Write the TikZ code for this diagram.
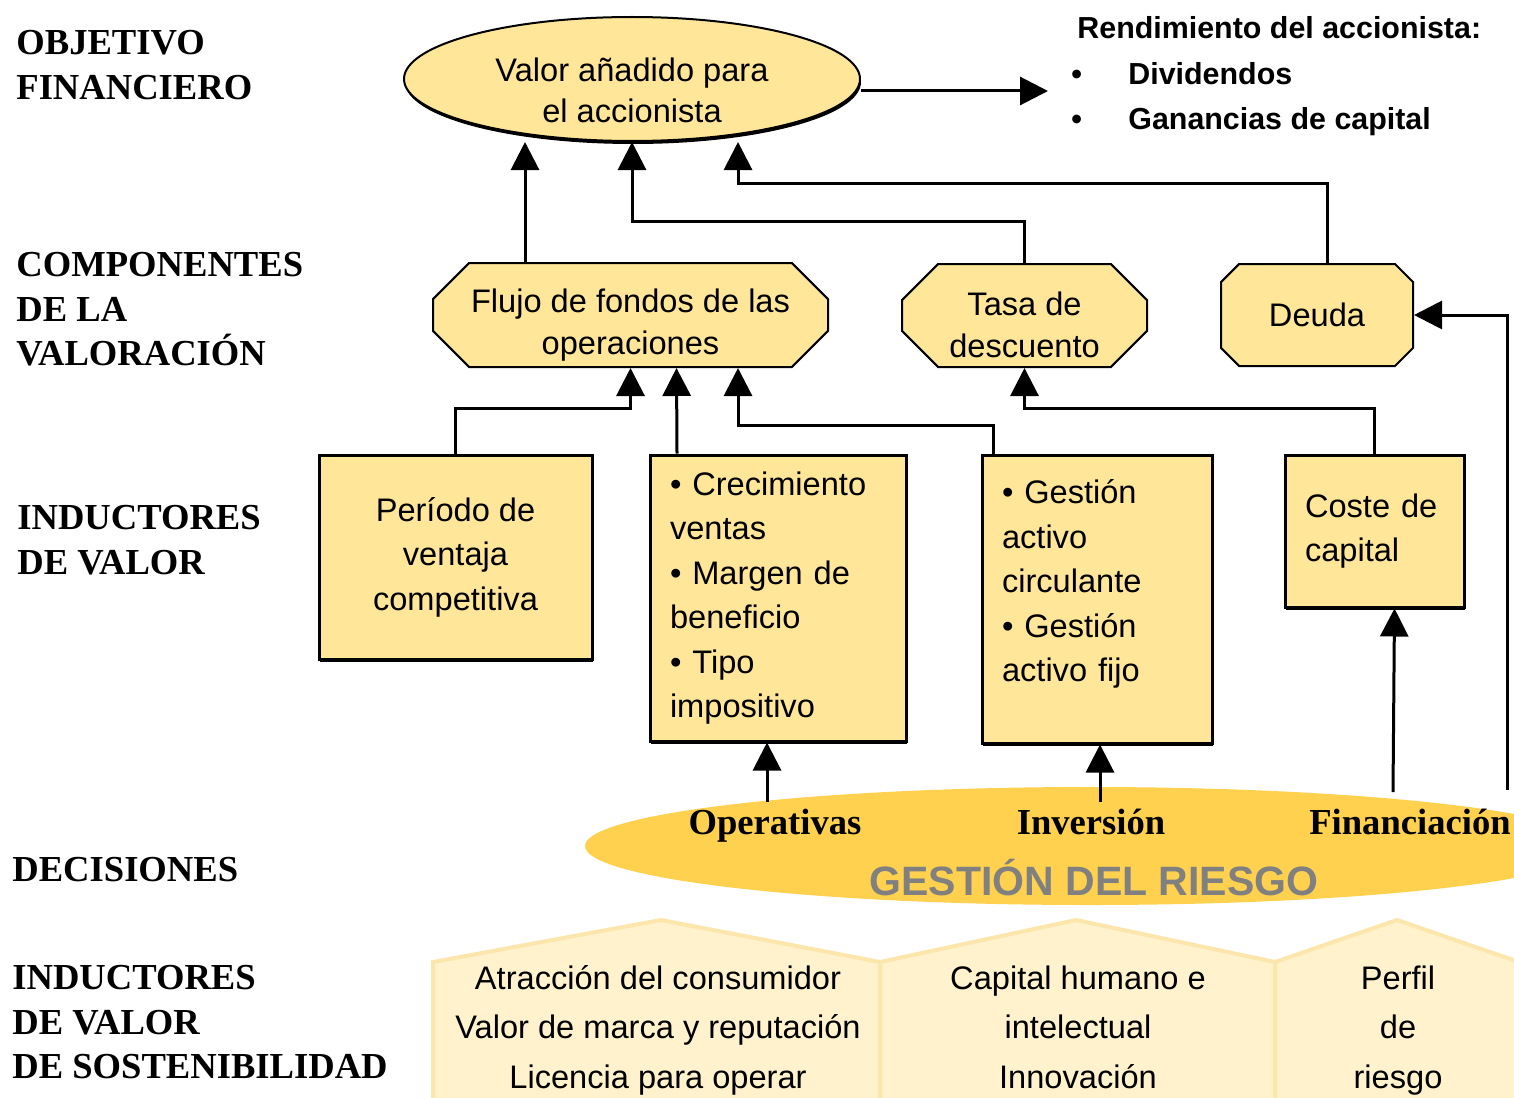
\documentclass[tikz,border=0pt]{standalone}
\usepackage{fontspec}
\setmainfont{Liberation Serif}
\newfontfamily\arialfont{Liberation Sans}
\usetikzlibrary{shapes.geometric,shapes.misc,shadows,arrows.meta}
\definecolor{boxfill}{RGB}{255,230,153}
\definecolor{riskgold}{RGB}{255,209,79}
\definecolor{creambg}{RGB}{255,242,204}
\definecolor{creamedge}{RGB}{253,230,172}
\definecolor{riskgray}{RGB}{128,128,128}

\begin{document}
\begin{tikzpicture}[x=0.5pt,y=-0.5pt,
  arr/.style={line width=1.5pt,-{Triangle[length=14pt,width=14pt]}},
  lbl/.style={font=\bfseries\fontsize{18.3}{22.2}\selectfont,align=left,inner sep=0pt},
  dec/.style={font=\bfseries\fontsize{18.3}{22}\selectfont,anchor=base,inner sep=3pt},
  ret/.style={font=\arialfont\bfseries\fontsize{15.2}{18}\selectfont,anchor=base west,inner sep=0pt},
  pie/.style={font=\arialfont\fontsize{16.3}{24.75}\selectfont,align=center,anchor=north,inner sep=0pt},
  shade/.style={drop shadow={shadow xshift=0.5pt,shadow yshift=-1.5pt,opacity=1,fill=black}},
  caja/.style={font=\arialfont\fontsize{16.3}{22.25}\selectfont,draw,line width=1.5pt,fill=boxfill,shade},
  octo/.style={font=\arialfont\fontsize{16.3}{21}\selectfont,chamfered rectangle,chamfered rectangle xsep=15pt,draw,line width=1pt,fill=boxfill,inner sep=0pt,align=center}]
\useasboundingbox (0,0) rectangle (1514,1097);

% sustainability drivers
\foreach \l/\p/\r in {433/661/880,880/1076/1275,1275/1397/1519}
  \filldraw[fill=creambg,draw=creamedge,line width=2pt] (\l,1100) -- (\l,962) -- (\p,920) -- (\r,962) -- (\r,1100) -- cycle;
\node[pie] (consumidor) at (658,965) {Atracción del consumidor\\Valor de marca y reputación\\Licencia para operar};
\node[pie] (capital) at (1078,965) {Capital humano e\\intelectual\\Innovación};
\node[pie] (perfil) at (1398,965) {Perfil\\de\\riesgo};

% decisions
\node[ellipse,fill=riskgold,minimum width=505pt,minimum height=59pt,inner sep=0pt] (riesgo) at (1090,846) {};
\node[dec] (opera) at (775,834) {Operativas};
\node[dec] (inver) at (1091,834) {Inversión};
\node[dec] (finan) at (1410,834) {Financiación};
\node[anchor=base,inner sep=0pt,text=riskgray,font=\arialfont\bfseries\fontsize{20.5}{24}\selectfont] (gestion) at (1094,895) {GESTIÓN DEL RIESGO};

% row labels
\node[lbl,anchor=north west] (objetivo) at (16,30) {OBJETIVO\\FINANCIERO};
\node[lbl,anchor=north west] (componentes) at (16,252) {COMPONENTES\\DE LA\\VALORACIÓN};
\node[lbl,anchor=north west] (inductores) at (17,505) {INDUCTORES\\DE VALOR};
\node[lbl,anchor=base west] (decisiones) at (12,881) {DECISIONES};
\node[lbl,anchor=north west] (sostenib) at (12,965) {INDUCTORES\\DE VALOR\\DE SOSTENIBILIDAD};

% objective
\node[ellipse,draw,line width=1pt,fill=boxfill,shade,minimum width=228pt,minimum height=62pt,inner sep=0pt,align=center,font=\arialfont\fontsize{16.3}{20.5}\selectfont] (valor) at (632,79) {\rule{0pt}{23pt}Valor añadido para\\el accionista};
\node[ret] (rend) at (1077,39) {Rendimiento del accionista:};
\node[ret] (divid) at (1071,84) {\makebox[28.5pt][l]{•}Dividendos};
\node[ret] (ganan) at (1071,129) {\makebox[28.5pt][l]{•}Ganancias de capital};
\coordinate (retorno) at (1048,91);
\draw[arr] ([yshift=-6pt]valor.east) -- (retorno);

% valuation components
\node[octo,minimum width=197.5pt,minimum height=52pt] (flujo) at (630.5,315) {\rule{0pt}{21.5pt}Flujo de fondos de las\\operaciones};
\node[octo,minimum width=122.5pt,minimum height=51.5pt] (tasa) at (1024.5,315.5) {\rule{0pt}{21.5pt}Tasa de\\descuento};
\node[octo,minimum width=96pt,minimum height=51pt] (deuda) at (1317,315) {Deuda};

% value drivers
\node[caja,minimum width=136.5pt,minimum height=102pt,align=center] (periodo) at (455.5,557) {Período de\\ventaja\\competitiva};
\node[caja,text width=108pt,inner xsep=10pt,minimum height=143pt,align=left] (crec) at (778,598) {• Crecimiento\\ventas\\• Margen de\\beneficio\\• Tipo\\impositivo};
\node[caja,text width=95pt,inner xsep=10pt,minimum height=144pt,align=left] (gest) at (1097,599) {• Gestión\\activo\\circulante\\• Gestión\\activo fijo\rule[-18.4pt]{0pt}{0pt}};
\node[caja,text width=69.5pt,inner xsep=10pt,minimum height=76pt,align=left] (coste) at (1374.5,531) {Coste de\\capital};

% connectors
\draw[arr] (525,0 |- flujo.north) -- (525,0 |- valor.south);
\draw[arr] (tasa.north) -- ++(0,-42) -| (valor.south);
\draw[arr] ([xshift=5pt]deuda.north) -- ++(0,-80) -| ([xshift=53pt]valor.south);
\draw[arr] (periodo.north) -- ++(0,-45) -| (flujo.south);
\draw[arr] ([xshift=-50.5pt]crec.north) -- ([xshift=23pt]flujo.south);
\draw[arr] ([xshift=-52pt]gest.north) -- ++(0,-28) -| ([xshift=53.75pt]flujo.south);
\draw[arr] (coste.north) -- ++(0,-45) -| (tasa.south);
\draw[arr] ([xshift=-4pt]opera.north) -- ([xshift=-5.5pt]crec.south);
\draw[arr] ([xshift=4.5pt]inver.north) -- ([xshift=1.5pt]gest.south);
\draw[arr] ([xshift=-8.5pt,yshift=5pt]finan.north) -- ([xshift=10pt]coste.south);
\coordinate (deudain) at (1507,790);
\draw[arr] (deudain) |- (deuda.east);
\end{tikzpicture}
\end{document}
